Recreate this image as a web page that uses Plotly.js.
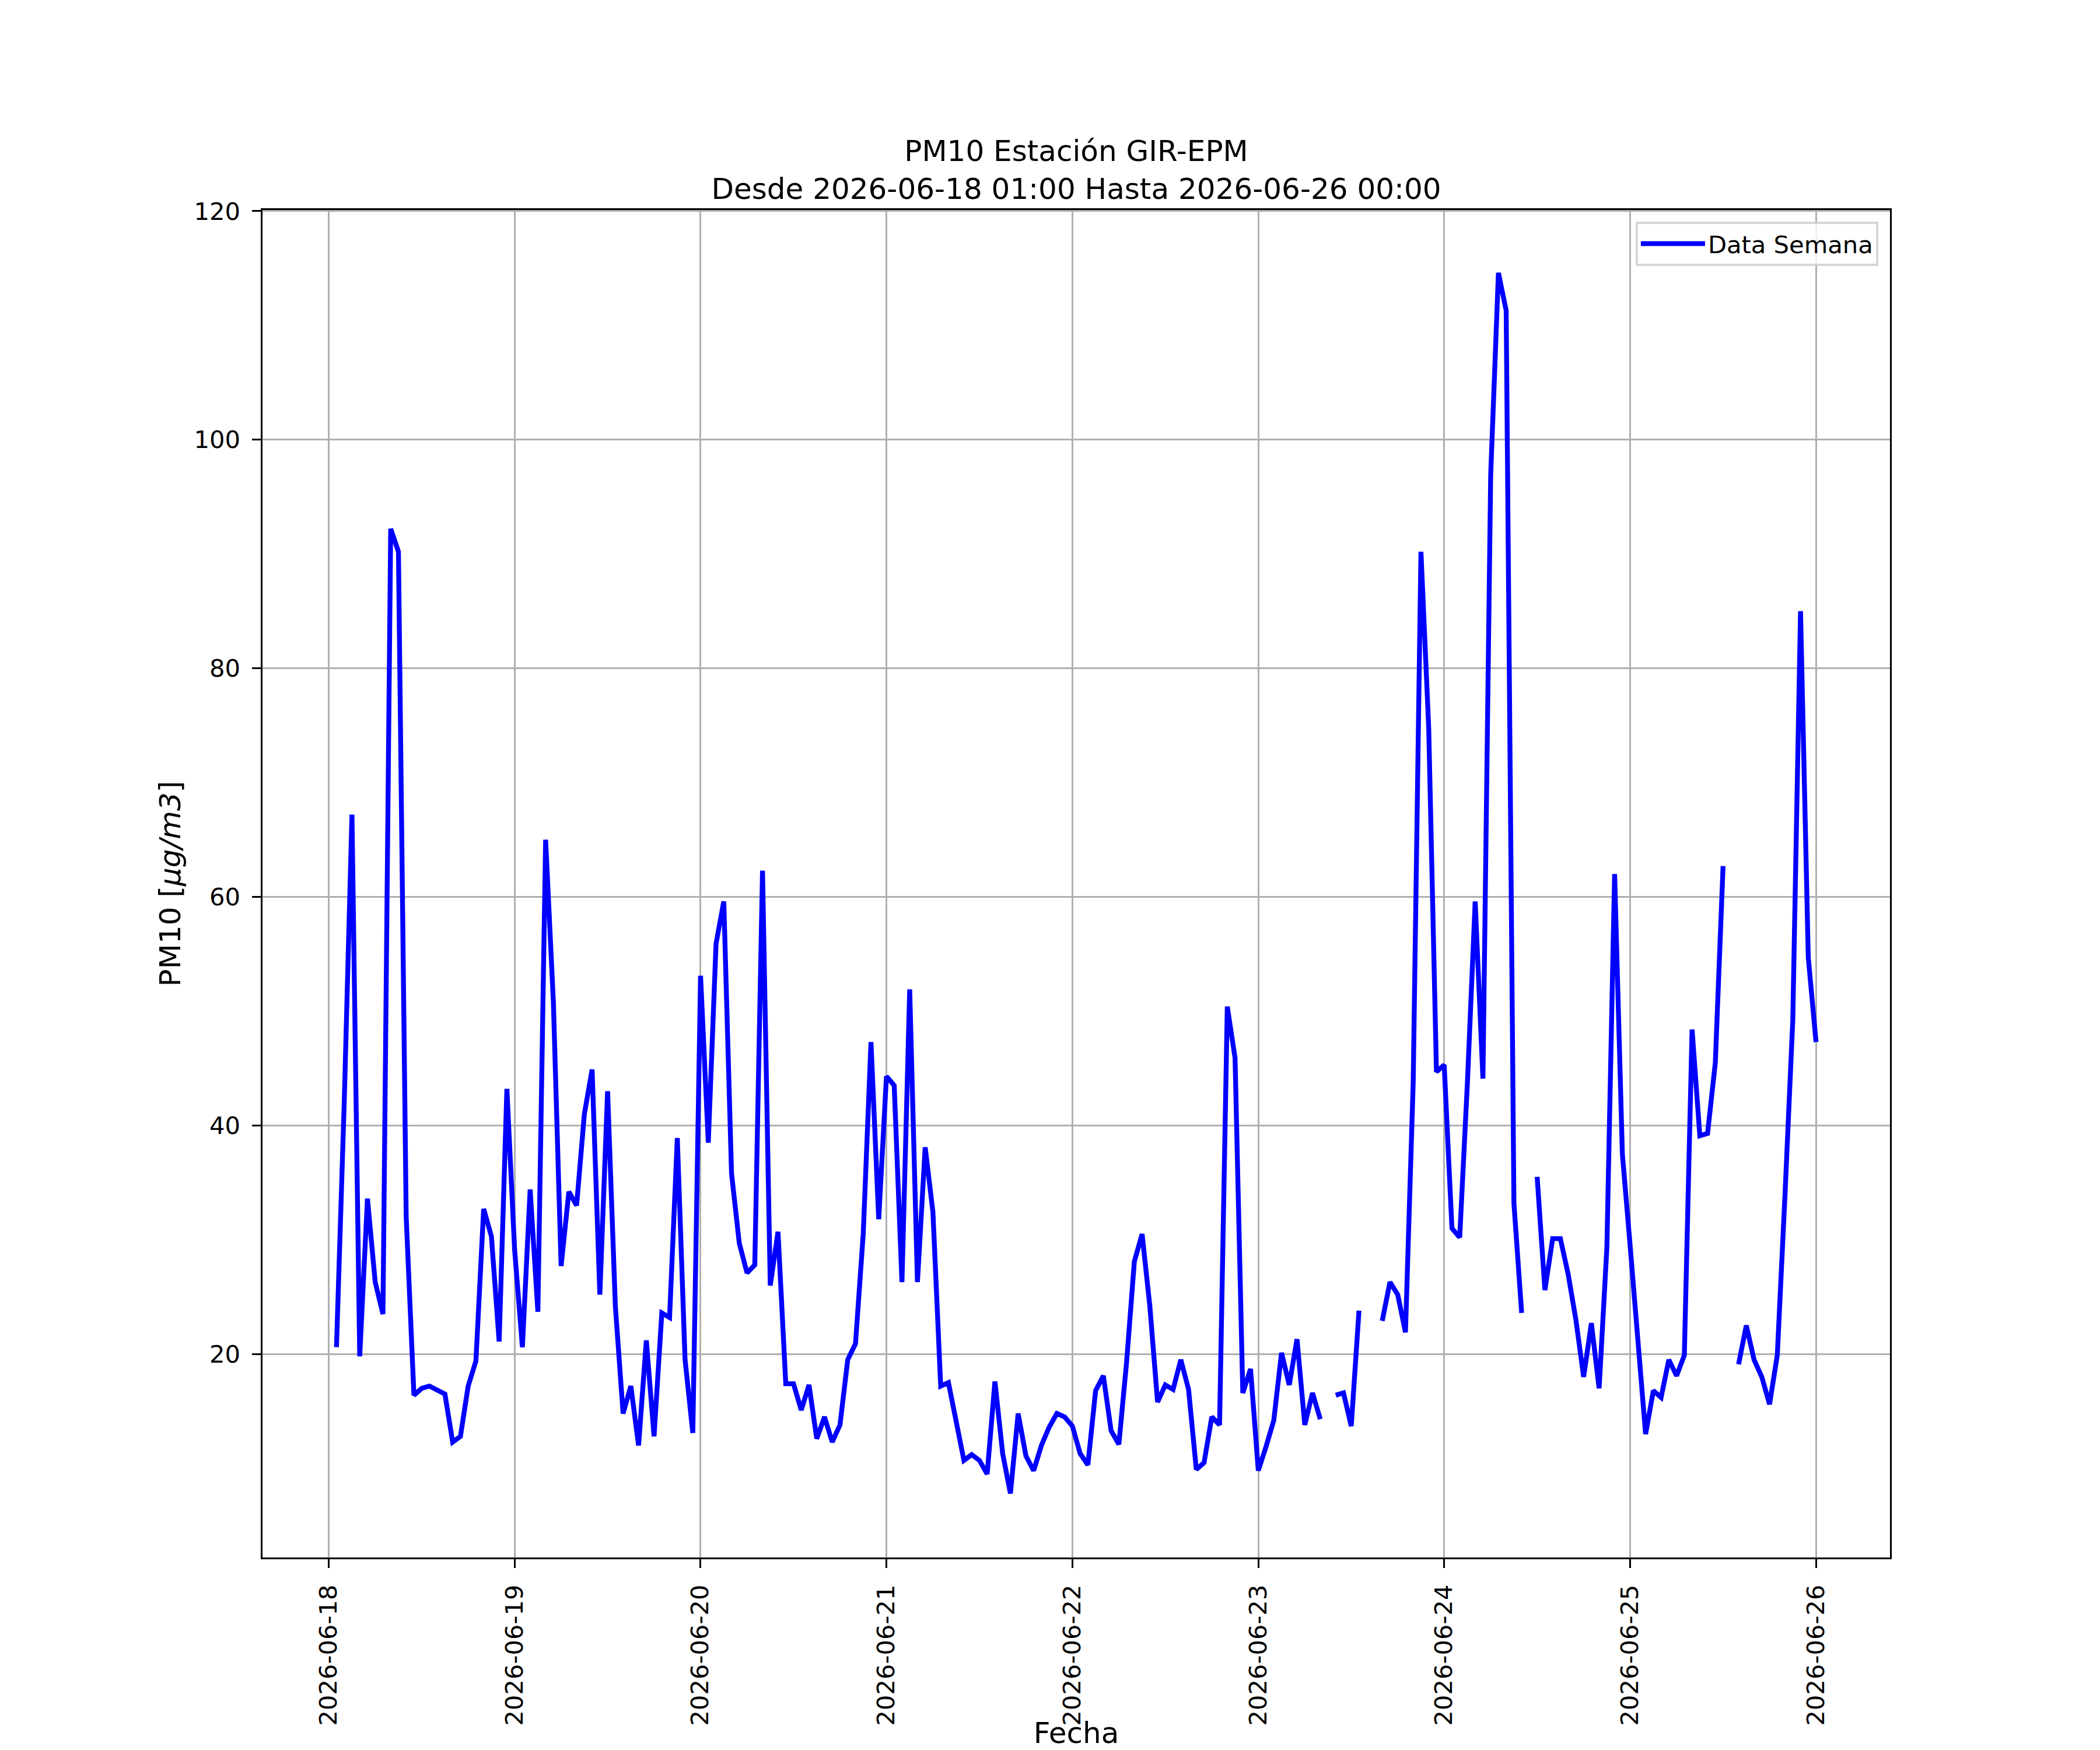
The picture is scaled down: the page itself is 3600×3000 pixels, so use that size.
<!DOCTYPE html>
<html>
<head>
<meta charset="utf-8">
<script src="https://cdn.plot.ly/plotly-3.0.1.min.js"></script>
<style>
    html, body { margin: 0; padding: 0; background: #ffffff; }
    #chart { width: 3600px; height: 3000px; }
</style>
</head>
<body>
<div id="chart"></div>
<script>
    // PM10 hourly readings, GIR-EPM station, one array per day (01:00 .. 24:00)
    const startTime = '2026-06-18T01:00:00';

    const day18 = [20.6, 42.0, 67.2, 19.8, 33.6, 26.3, 23.5, 92.2, 90.2, 32.0, 16.4, 17.0,
                   17.2, 16.9, 16.5, 12.3, 12.8, 17.2, 19.4, 32.7, 30.3, 21.1, 43.2, 29.1];
    const day19 = [20.6, 34.4, 23.7, 65.0, 50.8, 27.7, 34.2, 33.0, 41.0, 44.9, 25.2, 43.0,
                   24.2, 14.8, 17.2, 12.0, 21.2, 12.8, 23.6, 23.2, 38.9, 19.5, 13.1, 53.1];
    const day20 = [38.5, 55.9, 59.6, 35.8, 29.7, 27.1, 27.8, 62.3, 26.0, 30.7, 17.4, 17.4,
                   15.1, 17.3, 12.6, 14.5, 12.3, 13.8, 19.5, 20.9, 30.5, 47.3, 31.8, 44.3];
    const day21 = [43.5, 26.3, 51.9, 26.3, 38.1, 32.4, 17.2, 17.5, 13.9, 10.7, 11.2, 10.7,
                   9.5, 17.6, 11.3, 7.8, 14.8, 11.1, 9.8, 12.0, 13.6, 14.8, 14.5, 13.7];
    const day22 = [11.3, 10.3, 16.8, 18.1, 13.3, 12.1, 19.3, 28.1, 30.5, 24.2, 15.8, 17.3,
                   16.9, 19.5, 16.9, 9.9, 10.5, 14.5, 13.8, 50.4, 45.9, 16.6, 18.7, 9.8];
    const day23 = [11.9, 14.2, 20.1, 17.3, 21.3, 13.8, 16.6, 14.3, null, 16.4, 16.6, 13.7,
                   23.8, null, null, 22.9, 26.3, 25.2, 21.9, 43.8, 90.2, 74.8, 44.7, 45.3];
    const day24 = [31.0, 30.2, 43.8, 59.6, 44.1, 96.9, 114.6, 111.3, 33.2, 23.6, null, 35.5,
                   25.6, 30.1, 30.1, 27.0, 23.0, 18.0, 22.7, 17.0, 29.3, 62.0, 37.5, 29.5];
    const day25 = [21.5, 13.0, 16.8, 16.2, 19.5, 18.1, 19.9, 48.4, 39.1, 39.3, 45.5, 62.7,
                   null, 19.1, 22.5, 19.5, 18.0, 15.6, 19.9, 34.0, 49.2, 85.0, 54.7, 47.3];

    const tickDates = ['2026-06-18', '2026-06-19', '2026-06-20', '2026-06-21', '2026-06-22',
                       '2026-06-23', '2026-06-24', '2026-06-25', '2026-06-26'];
    const yTicks = [20, 40, 60, 80, 100, 120];

    const values = [].concat(day18, day19, day20, day21, day22, day23, day24, day25);

    function hourStamp(i) {
        const t = new Date(startTime + 'Z');
        t.setUTCHours(t.getUTCHours() + i);
        return t.toISOString().slice(0, 19).replace('T', ' ');
    }
    const times = values.map((v, i) => hourStamp(i));

    const font = 'DejaVu Sans, Liberation Sans, sans-serif';
    const px = 300 / 72;   // figure was drawn at 300 dpi

    const trace = {
        x: times,
        y: values,
        type: 'scatter',
        mode: 'lines',
        name: 'Data Semana',
        connectgaps: false,
        line: { color: '#0000ff', width: 2 * px }
    };

    const axisCommon = {
        showline: true,
        mirror: true,
        linecolor: '#000000',
        linewidth: 0.8 * px,
        ticks: 'outside',
        ticklen: 3.5 * px,
        tickwidth: 0.8 * px,
        tickcolor: '#000000',
        showgrid: true,
        gridcolor: '#b0b0b0',
        gridwidth: 0.8 * px,
        zeroline: false,
        tickfont: { family: font, size: 10 * px, color: '#000000' }
    };

    const layout = {
        width: 3600,
        height: 3000,
        paper_bgcolor: '#ffffff',
        plot_bgcolor: '#ffffff',
        margin: { l: 450, r: 360, t: 360, b: 330 },
        title: {
            text: 'PM10 Estación GIR-EPM<br>Desde 2026-06-18 01:00 Hasta 2026-06-26 00:00',
            font: { family: font, size: 12 * px, color: '#000000' },
            x: 0.5,
            xref: 'paper',
            xanchor: 'center',
            y: 1 - 276 / 3000,
            yref: 'container',
            yanchor: 'middle'
        },
        xaxis: Object.assign({}, axisCommon, {
            type: 'date',
            range: ['2026-06-17 15:27', '2026-06-26 09:33'],
            tickmode: 'array',
            tickvals: tickDates,
            ticktext: tickDates,
            tickangle: -90,
            ticklabelstandoff: 12,
            title: {
                text: 'Fecha',
                standoff: 20,
                font: { family: font, size: 12 * px, color: '#000000' }
            }
        }),
        yaxis: Object.assign({}, axisCommon, {
            range: [2.2, 120.1],
            tickmode: 'array',
            tickvals: yTicks,
            ticktext: yTicks.map(String),
            ticklabelstandoff: 12,
            title: {
                text: 'PM10 [<i>μg/m3</i>]',
                standoff: 7,
                font: { family: font, size: 12 * px, color: '#000000' }
            }
        }),
        showlegend: true,
        legend: {
            x: 0.9928,
            y: 0.9913,
            xanchor: 'right',
            yanchor: 'top',
            bgcolor: 'rgba(255,255,255,0.8)',
            bordercolor: 'rgba(204,204,204,0.8)',
            borderwidth: 4,
            itemwidth: 110,
            font: { family: font, size: 10 * px, color: '#000000' }
        }
    };

    Plotly.newPlot('chart', [trace], layout, { displayModeBar: false, responsive: false });
</script>
</body>
</html>
